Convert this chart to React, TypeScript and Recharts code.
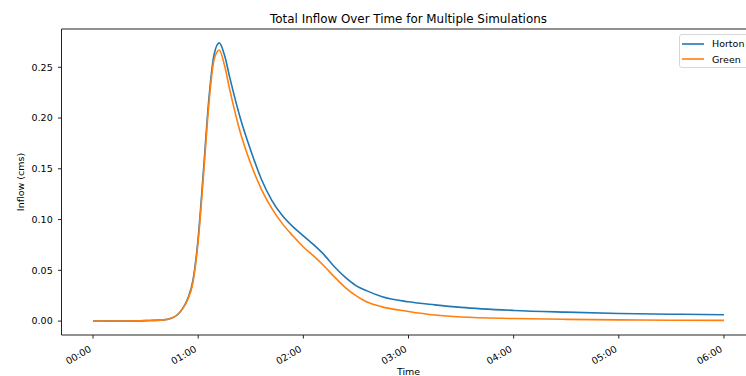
import { Line, LineChart, ReferenceLine, XAxis, YAxis } from "recharts"

// simulation time in hours since start
const hours = [0, 0.25, 0.5, 0.67, 0.75, 0.8, 0.85, 0.9, 0.95, 1.0, 1.05, 1.1, 1.15, 1.2, 1.25, 1.3, 1.4, 1.5, 1.6, 1.7, 1.8, 1.9, 2.0, 2.1, 2.2, 2.3, 2.4, 2.5, 2.6, 2.75, 3.0, 3.25, 3.5, 4.0, 4.5, 5.0, 5.5, 6.0]
const horton = [0, 0.0001, 0.0005, 0.0012, 0.003, 0.006, 0.012, 0.022, 0.04, 0.082, 0.148, 0.217, 0.262, 0.274, 0.262, 0.24, 0.2, 0.168, 0.14, 0.119, 0.104, 0.093, 0.084, 0.075, 0.065, 0.053, 0.043, 0.035, 0.03, 0.024, 0.019, 0.016, 0.0135, 0.0105, 0.0088, 0.0075, 0.0068, 0.0062]
const green = [0, 0.0001, 0.0005, 0.0012, 0.003, 0.006, 0.012, 0.021, 0.038, 0.079, 0.143, 0.212, 0.257, 0.267, 0.252, 0.228, 0.186, 0.155, 0.13, 0.111, 0.096, 0.084, 0.073, 0.064, 0.054, 0.043, 0.033, 0.025, 0.019, 0.014, 0.0095, 0.006, 0.004, 0.0025, 0.0017, 0.0012, 0.0009, 0.0007]
const xTicks = [0, 1, 2, 3, 4, 5, 6]
const yTicks = [0, 0.05, 0.1, 0.15, 0.2, 0.25]

const data = hours.map((h, i) => ({ h, horton: horton[i], green: green[i] }))

const FONT = "DejaVu Sans, sans-serif"
const BLUE = "#1f77b4"
const ORANGE = "#ff7f0e"
const X_DOMAIN: [number, number] = [-0.3, 6.3]
const Y_DOMAIN: [number, number] = [-0.0137, 0.2877]

const fmtHour = (h: number) => `${String(h).padStart(2, "0")}:00`

function TimeTick({ x, y, payload }: any) {
  const tx = x - 1
  const ty = y + 12.5
  return (
    <text x={tx} y={ty} textAnchor="end" fontSize={9.5} fontFamily={FONT} fill="#000" transform={`rotate(-30, ${tx}, ${ty})`}>
      {fmtHour(payload.value)}
    </text>
  )
}

function LegendBox() {
  const rows = [
    { name: "Horton", color: BLUE },
    { name: "Green", color: ORANGE },
  ]
  return (
    <div
      style={{
        position: "absolute",
        left: 679,
        top: 34,
        width: 80,
        height: 34,
        border: "1px solid #d6d6d6",
        borderRadius: 3,
        background: "rgba(255,255,255,0.8)",
        fontFamily: FONT,
        fontSize: 9.5,
        boxSizing: "border-box",
        paddingTop: 1,
      }}
    >
      {rows.map((r) => (
        <div key={r.name} style={{ display: "flex", alignItems: "center", height: 15.6 }}>
          <svg width={22} height={4} style={{ marginLeft: 2, marginRight: 8 }}>
            <line x1={0} y1={2} x2={22} y2={2} stroke={r.color} strokeWidth={1.6} />
          </svg>
          <span style={{ color: "#000" }}>{r.name}</span>
        </div>
      ))}
    </div>
  )
}

export default function App() {
  const W = 780
  const H = 400
  return (
    <div style={{ position: "absolute", left: 0, top: 0, width: 746, height: 376, overflow: "hidden", background: "#fff" }}>
      <LineChart width={W} height={H} data={data} margin={{ top: 29, right: W - 755.5, left: 0, bottom: 0 }}>
        <text x={408.5} y={22.5} textAnchor="middle" fontSize={11.9} fontFamily={FONT} fill="#000">
          Total Inflow Over Time for Multiple Simulations
        </text>
        <text x={24} y={182} textAnchor="middle" fontSize={9.5} fontFamily={FONT} fill="#000" transform="rotate(-90, 24, 182)">
          Inflow (cms)
        </text>
        <text x={408.5} y={375} textAnchor="middle" fontSize={9.5} fontFamily={FONT} fill="#000">
          Time
        </text>
        <XAxis
          dataKey="h"
          type="number"
          domain={X_DOMAIN}
          ticks={xTicks}
          allowDataOverflow
          height={H - 335}
          tickSize={3.5}
          tickMargin={0}
          stroke="#222"
          tick={<TimeTick />}
        />
        <YAxis
          type="number"
          domain={Y_DOMAIN}
          ticks={yTicks}
          allowDataOverflow
          width={61.5}
          tickSize={3.5}
          tickMargin={5.3}
          stroke="#222"
          tickFormatter={(v: number) => v.toFixed(2)}
          tick={{ fontSize: 9.5, fontFamily: FONT, fill: "#000" }}
        />
        <ReferenceLine y={Y_DOMAIN[1]} stroke="#222" />
        <ReferenceLine x={X_DOMAIN[1]} stroke="#222" />
        <Line type="monotone" dataKey="horton" name="Horton" stroke={BLUE} strokeWidth={1.6} dot={false} isAnimationActive={false} />
        <Line type="monotone" dataKey="green" name="Green" stroke={ORANGE} strokeWidth={1.6} dot={false} isAnimationActive={false} />
      </LineChart>
      <LegendBox />
    </div>
  )
}
